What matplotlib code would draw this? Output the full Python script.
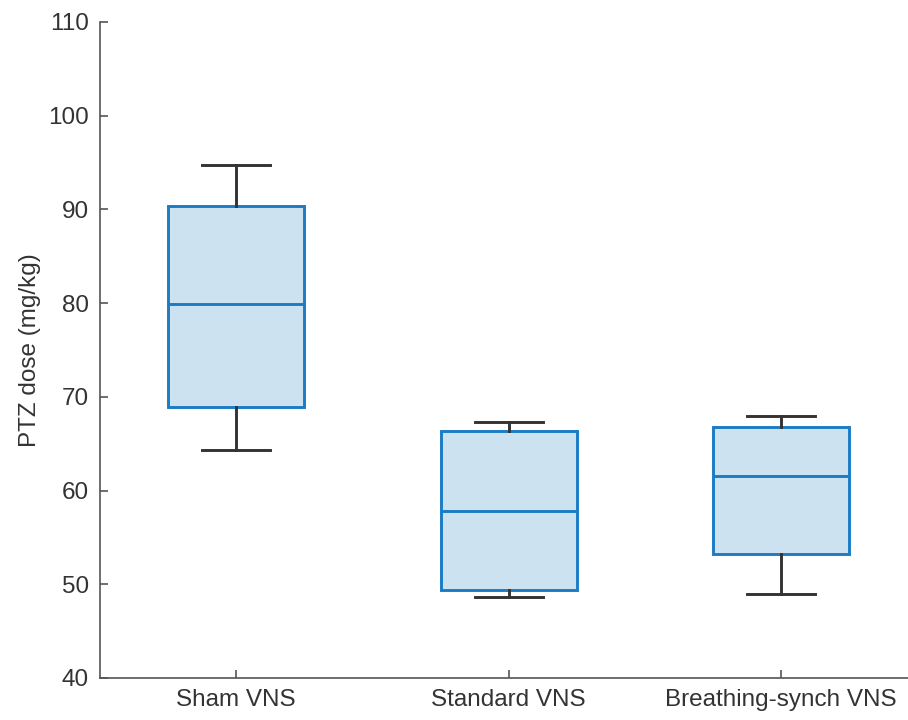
import matplotlib
matplotlib.use("Agg")
import matplotlib.pyplot as plt

plt.rcParams['font.family'] = ['Liberation Sans', 'DejaVu Sans']

groups = ["Sham VNS", "Standard VNS", "Breathing-synch VNS"]
whisker_low = [64.3, 48.6, 49.0]
q1 = [68.9, 49.4, 53.2]
median = [79.9, 57.8, 61.6]
q3 = [90.4, 66.4, 66.8]
whisker_high = [94.7, 67.3, 68.0]

yticks = [40, 50, 60, 70, 80, 90, 100, 110]

text_col = "#333333"
axis_col = "#555555"
box_edge = "#1b7cc5"
box_fill = "#cde2f1"
whisk_col = "#333333"

fig = plt.figure(figsize=(9.08, 7.2), dpi=100)
ax = fig.add_axes([100 / 908, 1 - 678 / 720, 1 - 100 / 908, (678 - 22) / 720])

stats = []
for i, name in enumerate(groups):
    stats.append(dict(label=name, whislo=whisker_low[i], q1=q1[i], med=median[i],
                      q3=q3[i], whishi=whisker_high[i], fliers=[]))

ax.bxp(stats, positions=[1, 2, 3], widths=0.5, patch_artist=True, showfliers=False,
       boxprops=dict(facecolor=box_fill, edgecolor=box_edge, linewidth=2.1),
       medianprops=dict(color=box_edge, linewidth=2.1),
       whiskerprops=dict(color=whisk_col, linewidth=2.1),
       capprops=dict(color=whisk_col, linewidth=2.1),
       capwidths=0.25)

ax.set_xlim(0.5, 3.466)
ax.set_ylim(40, 110)
ax.set_yticks(yticks)
ax.set_xticks([1, 2, 3])
ax.set_xticklabels(groups)
ax.set_ylabel("PTZ dose (mg/kg)", fontsize=17.5, color=text_col, labelpad=5)

for side in ("top", "right"):
    ax.spines[side].set_visible(False)
for side in ("left", "bottom"):
    ax.spines[side].set_color(axis_col)
    ax.spines[side].set_linewidth(1.2)

ax.tick_params(direction="in", length=6, width=1.2, color=axis_col,
               labelsize=17.5, labelcolor=text_col, pad=8)

fig.savefig("out.png", dpi=100)
